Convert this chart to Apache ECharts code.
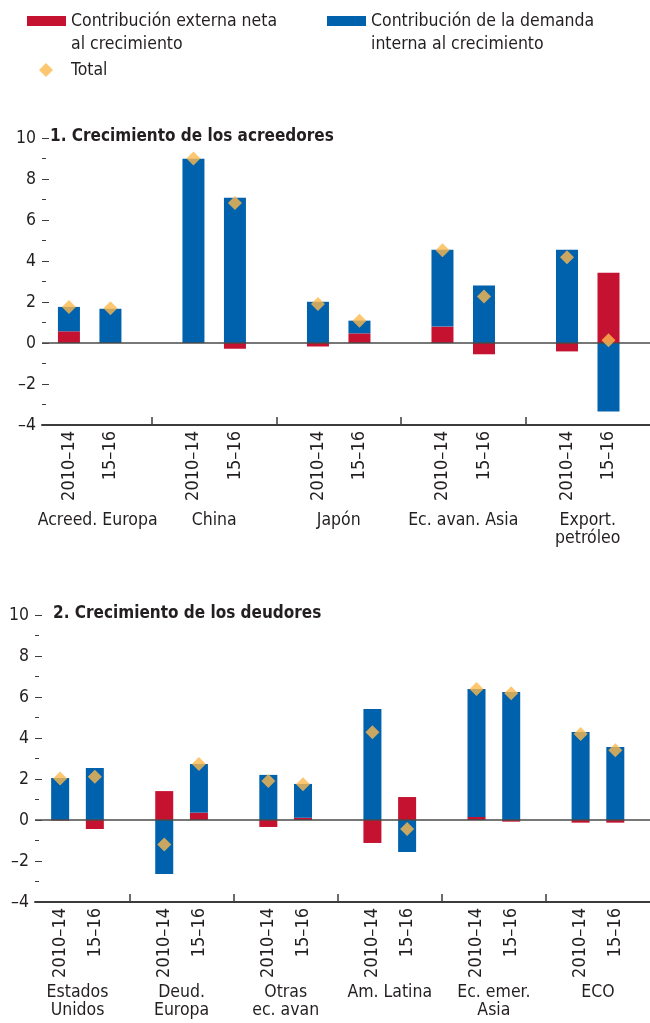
<!DOCTYPE html>
<html>
<head>
<meta charset="utf-8">
<script src="https://cdn.jsdelivr.net/npm/echarts@6/dist/echarts.min.js"></script>
<style>
html,body{margin:0;padding:0;background:#fff;}
#chart{width:650px;height:1023px;}
</style>
</head>
<body>
<div id="chart"></div>
<script>
// ---- Data ----
const periods = ['2010–14', '15–16'];
const groups1 = ['Acreed. Europa', 'China', 'Japón', 'Ec. avan. Asia', 'Export.\npetróleo'];
const ext1 = [0.57, 0.0, 0.0, -0.28, -0.17, 0.47, 0.80, -0.55, -0.41, 3.43];
const dom1 = [1.19, 1.67, 8.99, 7.09, 2.01, 0.62, 3.75, 2.80, 4.55, -3.34];
const tot1 = [1.76, 1.70, 9.00, 6.83, 1.90, 1.09, 4.52, 2.27, 4.18, 0.13];

const groups2 = ['Estados\nUnidos', 'Deud.\nEuropa', 'Otras\nec. avan', 'Am. Latina', 'Ec. emer.\nAsia', 'ECO'];
const ext2 = [-0.03, -0.44, 1.41, 0.36, -0.34, 0.11, -1.12, 1.12, 0.15, -0.08, -0.13, -0.13];
const dom2 = [2.05, 2.54, -2.63, 2.37, 2.20, 1.65, 5.41, -1.56, 6.24, 6.24, 4.29, 3.56];
const tot2 = [2.03, 2.11, -1.19, 2.73, 1.90, 1.74, 4.28, -0.44, 6.39, 6.18, 4.20, 3.40];

const titles = ['1. Crecimiento de los acreedores', '2. Crecimiento de los deudores'];
const legendNames = ['Contribución externa neta al crecimiento', 'Contribución de la demanda interna al crecimiento', 'Total'];
const legendLine1 = ['Contribución externa neta', 'Contribución de la demanda', 'Total'];
const legendLine2 = ['al crecimiento', 'interna al crecimiento'];

// ---- Style ----
const RED = '#C41230', BLUE = '#0061AC', GOLD = '#FDB94F';
const FONT = "'DejaVu Sans Condensed', 'Liberation Sans Narrow', sans-serif";
const TXT = '#231F20';
const AX = '#3c3c3c';
const FS = 17.5;

// position on x: each group occupies 3 slots, bars at slots 1 and 2
const xpos = (j) => 3 * Math.floor(j / 2) + 1 + (j % 2);
// value first, position second (encode maps them)
const pairs = (arr) => arr.map((v, j) => [v, xpos(j)]);

function panel(idx, ngroups, groups, ext, dom, tot, xmin, barW, nameMargin) {
  const xmax = 3 * ngroups;
  const periodVals = [], groupVals = [], sepVals = [];
  for (let g = 0; g < ngroups; g++) {
    periodVals.push(3 * g + 1, 3 * g + 2);
    groupVals.push(3 * g + 1.5);
    if (g > 0) sepVals.push(3 * g);
  }
  const xAxes = [
    {
      type: 'value', gridIndex: idx, min: xmin, max: xmax, position: 'bottom',
      axisLine: { show: true, onZero: false, lineStyle: { color: AX, width: 2 } },
      axisTick: { show: true, inside: true, length: 8, customValues: sepVals, lineStyle: { color: AX, width: 1.5 } },
      axisLabel: {
        customValues: periodVals, rotate: 90, margin: 6,
        fontFamily: FONT, fontSize: 18, color: TXT,
        formatter: (v) => periods[Math.round(v) % 3 - 1]
      },
      splitLine: { show: false }
    },
    {
      type: 'value', gridIndex: idx, min: xmin, max: xmax, position: 'bottom',
      axisLine: { show: false }, axisTick: { show: false }, splitLine: { show: false },
      axisLabel: {
        customValues: groupVals, margin: nameMargin,
        fontFamily: FONT, fontSize: FS, color: TXT, lineHeight: 18,
        formatter: (v) => {
          const g = Math.round((v - 1.5) / 3);
          return idx === 0 && g === 0 ? '{p|' + groups[g] + '}' : groups[g];
        },
        rich: { p: { padding: [0, 0, 0, 16], fontFamily: FONT, fontSize: FS, color: TXT, lineHeight: 18 } }
      }
    }
  ];
  const yAxis = {
    type: 'value', gridIndex: idx, min: -4, max: 10, interval: 2,
    axisLine: { show: false },
    axisTick: { show: true, inside: true, length: 7, lineStyle: { color: AX, width: 1 } },
    minorTick: { show: true, splitNumber: 2, length: 4, lineStyle: { color: AX, width: 1 } },
    splitLine: { show: false }, minorSplitLine: { show: false },
    axisLabel: {
      margin: 6, fontFamily: FONT, fontSize: 17.5, color: TXT,
      formatter: (v) => (v < 0 ? '–' + Math.abs(v) : String(v))
    }
  };
  const enc = { x: 1, y: 0 };
  const series = [
    {
      name: legendNames[0], type: 'bar', stack: 's' + idx, xAxisIndex: idx * 2, yAxisIndex: idx,
      barWidth: barW, itemStyle: { color: RED }, encode: enc, data: pairs(ext)
    },
    {
      name: legendNames[1], type: 'bar', stack: 's' + idx, xAxisIndex: idx * 2, yAxisIndex: idx,
      barWidth: barW, itemStyle: { color: BLUE }, encode: enc, data: pairs(dom),
      markLine: {
        silent: true, symbol: 'none', label: { show: false },
        lineStyle: { color: '#4a4a4a', width: 1.5, type: 'solid' },
        data: [{ yAxis: 0 }]
      }
    },
    {
      name: legendNames[2], type: 'scatter', xAxisIndex: idx * 2, yAxisIndex: idx,
      symbol: 'diamond', symbolSize: 14, itemStyle: { color: GOLD }, z: 5, encode: enc, data: pairs(tot)
    }
  ];
  return { xAxes, yAxis, series };
}

// panel 1: slot 43.15px, origin 26.85px ; panel 2: slot 35.575px, origin 25.2px
const P1 = { left: 42, slot: 43.15, origin: 26.85, top: 138, n: 5 };
const P2 = { left: 35, slot: 35.575, origin: 25.2, top: 615, n: 6 };
const min1 = (P1.left - P1.origin) / P1.slot;
const min2 = (P2.left - P2.origin) / P2.slot;

const a = panel(0, P1.n, groups1, ext1, dom1, tot1, min1, 22, 86);
const b = panel(1, P2.n, groups2, ext2, dom2, tot2, min2, 18, 81);

const chart = echarts.init(document.getElementById('chart'), null, { renderer: 'canvas' });
const legendText = { fontFamily: FONT, fontSize: FS, color: TXT };
chart.setOption({
  animation: false,
  backgroundColor: '#fff',
  title: [
    { text: titles[0], left: 50, top: 128, padding: 0, textStyle: { fontFamily: FONT, fontSize: 17, fontWeight: 'bold', color: TXT } },
    { text: titles[1], left: 53, top: 605, padding: 0, textStyle: { fontFamily: FONT, fontSize: 17, fontWeight: 'bold', color: TXT } }
  ],
  legend: [
    { data: [{ name: legendNames[0], icon: 'rect' }], left: 27, top: 12, padding: 0, itemWidth: 39, itemHeight: 10,
      formatter: () => legendLine1[0], textStyle: legendText, selectedMode: false },
    { data: [{ name: legendNames[1], icon: 'rect' }], left: 327, top: 12, padding: 0, itemWidth: 39, itemHeight: 10,
      formatter: () => legendLine1[1], textStyle: legendText, selectedMode: false },
    { data: [{ name: legendNames[2], icon: 'diamond' }], left: 39, top: 61, padding: 0, itemWidth: 14, itemHeight: 14,
      formatter: () => legendLine1[2], textStyle: Object.assign({ padding: [0, 0, 0, 13] }, legendText), selectedMode: false }
  ],
  graphic: [
    { type: 'text', silent: true, style: { x: 71, y: 44, verticalAlign: 'middle', text: legendLine2[0], font: FS + 'px ' + FONT, fill: TXT } },
    { type: 'text', silent: true, style: { x: 371, y: 44, verticalAlign: 'middle', text: legendLine2[1], font: FS + 'px ' + FONT, fill: TXT } }
  ],
  grid: [
    { left: P1.left, top: P1.top, width: (3 * P1.n - min1) * P1.slot, height: 287 },
    { left: P2.left, top: P2.top, width: (3 * P2.n - min2) * P2.slot, height: 287 }
  ],
  xAxis: a.xAxes.concat(b.xAxes),
  yAxis: [a.yAxis, b.yAxis],
  series: a.series.concat(b.series)
});
</script>
</body>
</html>
